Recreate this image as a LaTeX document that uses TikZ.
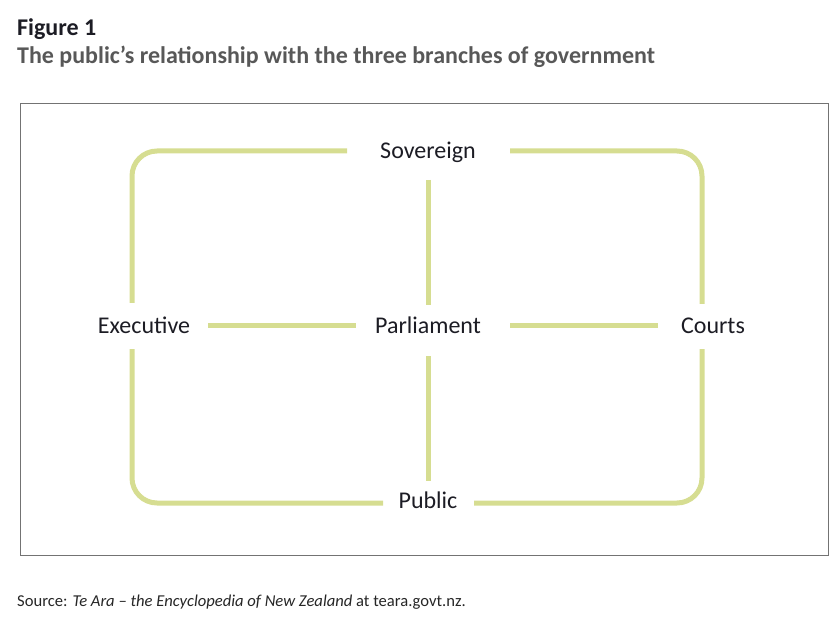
\documentclass[tikz,border=0pt]{standalone}
\usepackage{fontspec}
\setmainfont{Carlito}
\usetikzlibrary{calc}
\definecolor{govgreen}{RGB}{214,221,145}
\definecolor{govgrey}{RGB}{88,88,88}
\definecolor{govink}{RGB}{28,28,36}
\tikzset{
  figno/.style   ={inner sep=0pt, font=\fontsize{24}{28}\selectfont\bfseries, text=govink},
  figtitle/.style={inner sep=0pt, font=\fontsize{24}{28}\selectfont\bfseries, text=govgrey},
  branch/.style  ={inner sep=0pt, text height=16pt, text depth=0pt,
                   font=\fontsize{24}{28}\selectfont, text=govink},
  source/.style  ={inner sep=0pt, font=\fontsize{16.6}{19}\selectfont, text=black!85},
  link/.style    ={line width=5pt, govgreen, rounded corners=25pt},
  frame/.style   ={line width=0.9pt, black!55},
}

\begin{document}
\begin{tikzpicture}[x=1pt, y=-1pt]
  \useasboundingbox (0,0) rectangle (840,617);

  % ---- heading -------------------------------------------------------------
  \node[figno, anchor=base west] (fig) at (17,36) {Figure 1};
  \node[figtitle, anchor=base west] (ttl) at (17,64)
    {The public’s relationship with the three branches of government};

  \draw[frame] (20,103) rectangle (828,555);

  % ---- the branches --------------------------------------------------------
  \node[branch] (sov)  at (428,151) {Sovereign};
  \node[branch] (exe)  at (144,326) {Executive};
  \node[branch] (parl) at (428,326) {Parliament};
  \node[branch] (crt)  at (713,326) {Courts};
  \node[branch] (pub)  at (428,500) {Public};

  % ---- outer loop ----------------------------------------------------------
  \draw[link] ($(sov)+(-81,0)$) -| ($(exe)+(-12,-23)$);
  \draw[link] ($(sov)+(82,0)$)  -| ($(crt)+(-11,-22)$);
  \draw[link] ($(exe)+(-12,23)$) |- ($(pub)+(-45,3)$);
  \draw[link] ($(crt)+(-11,23)$) |- ($(pub)+(46,3)$);

  % ---- cross through parliament --------------------------------------------
  \draw[link] ($(exe)+(64,0)$)  -- ($(parl)+(-72,0)$);
  \draw[link] ($(parl)+(82,0)$) -- ($(crt)+(-55,0)$);
  \draw[link] ($(sov)+(0,29)$)  -- ($(parl)+(0,-21)$);
  \draw[link] ($(parl)+(0,30)$) -- ($(pub)+(0,-19)$);

  % ---- source --------------------------------------------------------------
  \node[source, anchor=base west] (src) at (17,606)
    {Source: \textit{Te Ara – the Encyclopedia of New Zealand} at teara.govt.nz.};
\end{tikzpicture}
\end{document}
